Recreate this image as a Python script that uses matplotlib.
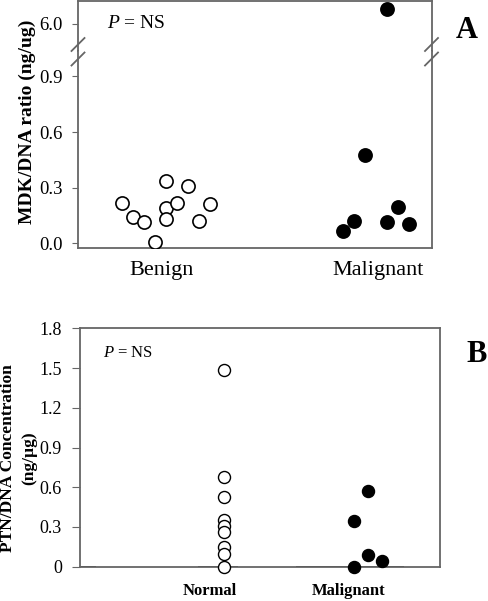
import matplotlib
matplotlib.use("Agg")
import matplotlib.pyplot as plt
from matplotlib.lines import Line2D
import numpy as np

plt.rcParams['font.family'] = ['Liberation Serif', 'DejaVu Serif']
plt.rcParams['mathtext.fontset'] = 'custom'
plt.rcParams['mathtext.it'] = 'Liberation Serif:italic'
plt.rcParams['mathtext.rm'] = 'Liberation Serif'

# panel A data (MDK/DNA ratio, ng/ug)
benign_offset = [-4, -3, -2, -1, 0, 0, 0, 1, 2, 3, 4]
benign_mdk = [0.22, 0.14, 0.115, 0.005, 0.335, 0.19, 0.13, 0.22, 0.31, 0.12, 0.21]
malig_offset = [-3, -2, -1, 1, 1, 2, 3]
malig_mdk = [0.065, 0.12, 0.475, 0.115, 6.8, 0.195, 0.105]
cats_a = ['Benign', 'Malignant']

# panel B data (PTN/DNA concentration, ng/µg)
normal_ptn = [1.485, 0.675, 0.525, 0.355, 0.31, 0.26, 0.145, 0.095, 0.0]
malig_x = [1.9, 1.9, 2.0, 2.0, 2.1]
malig_ptn = [0.345, 0.0, 0.575, 0.085, 0.04]
cats_b = ['Normal', 'Malignant']

frame = '#666666'
step = 0.0524

fig = plt.figure(figsize=(4.88, 6.01), dpi=100)
W, H = 488, 601

def box(l, t, r, b):
    return [l / W, 1 - b / H, (r - l) / W, (b - t) / H]

ax_top = fig.add_axes(box(78, 1, 432, 51))
ax_low = fig.add_axes(box(78, 51, 432, 248))

for ax in (ax_top, ax_low):
    bx = [1 + step * o for o in benign_offset]
    mx = [2 + step * o for o in malig_offset]
    ax.scatter(bx, benign_mdk, s=90, facecolors='white', edgecolors='black', linewidths=1.2, zorder=3)
    ax.scatter(mx, malig_mdk, s=90, facecolors='black', edgecolors='black', linewidths=1.2, zorder=3)
    ax.set_xlim(0.58, 2.265)
    for sp in ax.spines.values():
        sp.set_color(frame)
        sp.set_linewidth(1.3)
    ax.tick_params(axis='y', direction='out', length=4, color=frame, labelsize=13.5, pad=7)
    ax.tick_params(axis='x', length=0)

ax_top.set_ylim(4.53, 7.25)
ax_top.set_yticks([6.0])
ax_top.set_yticklabels(['6.0'])
ax_top.spines['bottom'].set_visible(False)
ax_top.set_xticks([])

ax_low.set_ylim(-0.0253, 1.037)
ax_low.set_yticks([0.0, 0.3, 0.6, 0.9])
ax_low.set_yticklabels(['0.0', '0.3', '0.6', '0.9'])
ax_low.spines['top'].set_visible(False)
ax_low.set_xticks([0.98, 2.01])
ax_low.set_xticklabels(cats_a, fontsize=16)
ax_low.tick_params(axis='x', pad=9)

# break marks
for xc in (78, 431.5):
    for yc in (44.5, 59):
        fig.add_artist(Line2D([(xc - 6.5) / W, (xc + 6.5) / W],
                              [1 - (yc + 6.5) / H, 1 - (yc - 6.5) / H],
                              color=frame, lw=1.3))

ax_top.text(107 / W, 1 - 24 / H, r'$P$ = NS', transform=fig.transFigure,
            fontsize=14, va='center', ha='left')
fig.text(27 / W, 1 - 122 / H, 'MDK/DNA ratio (ng/ug)', rotation=90,
         ha='center', va='center', fontsize=14, fontweight='bold')
fig.text(467 / W, 1 - 31 / H, 'A', ha='center', va='center', fontsize=22, fontweight='bold')

# panel B
axb = fig.add_axes(box(80, 328.3, 440, 566.7))
axb.scatter([1] * len(normal_ptn), normal_ptn, s=75, facecolors='white', edgecolors='black', linewidths=1.0, zorder=3, clip_on=False)
axb.scatter(malig_x, malig_ptn, s=75, facecolors='black', edgecolors='black', linewidths=1.0, zorder=3, clip_on=False)
axb.hlines(0, 0.0, 0.11, color='black', lw=1.3, zorder=2)
axb.hlines(0, 0.82, 1.1, color='black', lw=1.3, zorder=2)
axb.hlines(0, 1.5, 2.25, color='black', lw=1.3, zorder=2)
axb.set_xlim(0, 2.5)
axb.set_ylim(0, 1.8)
axb.set_yticks([0, 0.3, 0.6, 0.9, 1.2, 1.5, 1.8])
axb.set_yticklabels(['0', '0.3', '0.6', '0.9', '1.2', '1.5', '1.8'])
axb.set_xticks([0.903, 1.868])
axb.set_xticklabels(cats_b, fontsize=12, fontweight='bold')
axb.tick_params(axis='x', length=0, pad=12)
axb.tick_params(axis='y', direction='out', length=6, color=frame, labelsize=13, pad=7)
for sp in axb.spines.values():
    sp.set_color(frame)
    sp.set_linewidth(1.3)
axb.text(103 / W, 1 - 353 / H, r'$P$ = NS', transform=fig.transFigure,
         fontsize=12, va='center', ha='left')
fig.text(19 / W, 1 - 458 / H, 'PTN/DNA Concentration\n(ng/µg)', rotation=90,
         ha='center', va='center', fontsize=12.5, fontweight='bold', linespacing=1.45)
fig.text(477 / W, 1 - 355 / H, 'B', ha='center', va='center', fontsize=22, fontweight='bold')

fig.savefig('out.png', dpi=100)
